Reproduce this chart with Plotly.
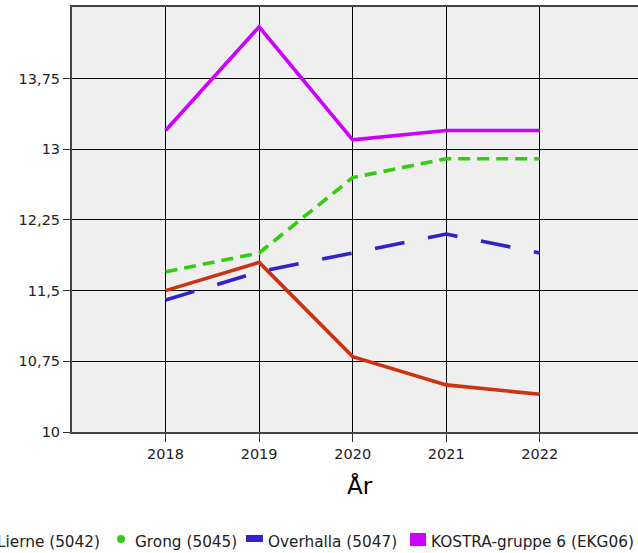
import plotly.graph_objects as go

years = [2018, 2019, 2020, 2021, 2022]
series_names = ["Lierne (5042)", "Grong (5045)", "Overhalla (5047)", "KOSTRA-gruppe 6 (EKG06)"]
lierne = [11.5, 11.8, 10.8, 10.5, 10.4]
grong = [11.7, 11.9, 12.7, 12.9, 12.9]
overhalla = [11.4, 11.7, 11.9, 12.1, 11.9]
kostra = [13.2, 14.3, 13.1, 13.2, 13.2]
y_tickvals = [10, 10.75, 11.5, 12.25, 13, 13.75]
y_ticktext = ["10", "10,75", "11,5", "12,25", "13", "13,75"]
x_title = "År"

colors = ["#cc3311", "#33cc11", "#3322cc", "#cc00ff"]
dashes = ["solid", "12px,7px", "30px,24px", "solid"]
values = [lierne, grong, overhalla, kostra]

W, H = 638, 553
L, T = 72, 7
PW, PH = 566, 425

fig = go.Figure()
for name, vals, col, dash in zip(series_names, values, colors, dashes):
    fig.add_trace(go.Scatter(x=years, y=vals, mode="lines", name=name,
                             line=dict(color=col, width=3.6, dash=dash),
                             showlegend=False))

def px_x(p):
    return (p - L) / PW

def px_y(p):
    return (T + PH - p) / PH

font = "DejaVu Sans"
annotations = [dict(text=x_title, x=px_x(360), y=px_y(486), xref="paper", yref="paper",
                    showarrow=False, xanchor="center", yanchor="middle",
                    font=dict(family=font, size=23, color="#000"))]

# custom legend
leg_y = px_y(542)
text_pos = [(102, "right"), (133, "left"), (266, "left"), (429, "left")]
for name, (xp, anc) in zip(series_names, text_pos):
    annotations.append(dict(text=name, x=px_x(xp), y=leg_y, xref="paper", yref="paper",
                            showarrow=False, xanchor=anc, yanchor="middle",
                            font=dict(family=font, size=15.3, color="#222")))

shapes = [
    dict(type="line", xref="paper", yref="paper", x0=px_x(-20), x1=px_x(-6),
         y0=px_y(540), y1=px_y(540), line=dict(color=colors[0], width=3)),
    dict(type="circle", xref="paper", yref="paper", x0=px_x(117), x1=px_x(125),
         y0=px_y(543), y1=px_y(535), fillcolor=colors[1], line=dict(width=0)),
    dict(type="rect", xref="paper", yref="paper", x0=px_x(246), x1=px_x(263),
         y0=px_y(542), y1=px_y(535), fillcolor=colors[2], line=dict(width=0)),
    dict(type="rect", xref="paper", yref="paper", x0=px_x(410), x1=px_x(426),
         y0=px_y(546), y1=px_y(533), fillcolor=colors[3], line=dict(width=0)),
]

fig.update_layout(
    width=W, height=H,
    margin=dict(l=L, r=W - L - PW, t=T, b=H - T - PH, pad=0),
    paper_bgcolor="white", plot_bgcolor="#efefef",
    font=dict(family=font, color="#333"),
    annotations=annotations, shapes=shapes,
    showlegend=False,
)
fig.update_xaxes(range=[2017, 2023.05], tickvals=years, ticktext=[str(y) for y in years],
                 showgrid=True, gridcolor="#000", gridwidth=1,
                 ticks="outside", ticklen=8, tickcolor="#333", tickwidth=1,
                 showline=True, linecolor="#444", linewidth=2, mirror=True,
                 zeroline=False, tickfont=dict(family=font, size=14.5, color="#222"))
fig.update_yaxes(range=[10, 14.51], tickvals=y_tickvals, ticktext=y_ticktext,
                 showgrid=True, gridcolor="#000", gridwidth=1,
                 ticks="outside", ticklen=7, tickcolor="#333", tickwidth=1,
                 showline=True, linecolor="#444", linewidth=2, mirror=False,
                 zeroline=False, tickfont=dict(family=font, size=14.5, color="#222"))

fig.write_html("out.html", config={"displayModeBar": False},
               post_script="document.body.style.margin='0';document.body.style.overflow='hidden';")
